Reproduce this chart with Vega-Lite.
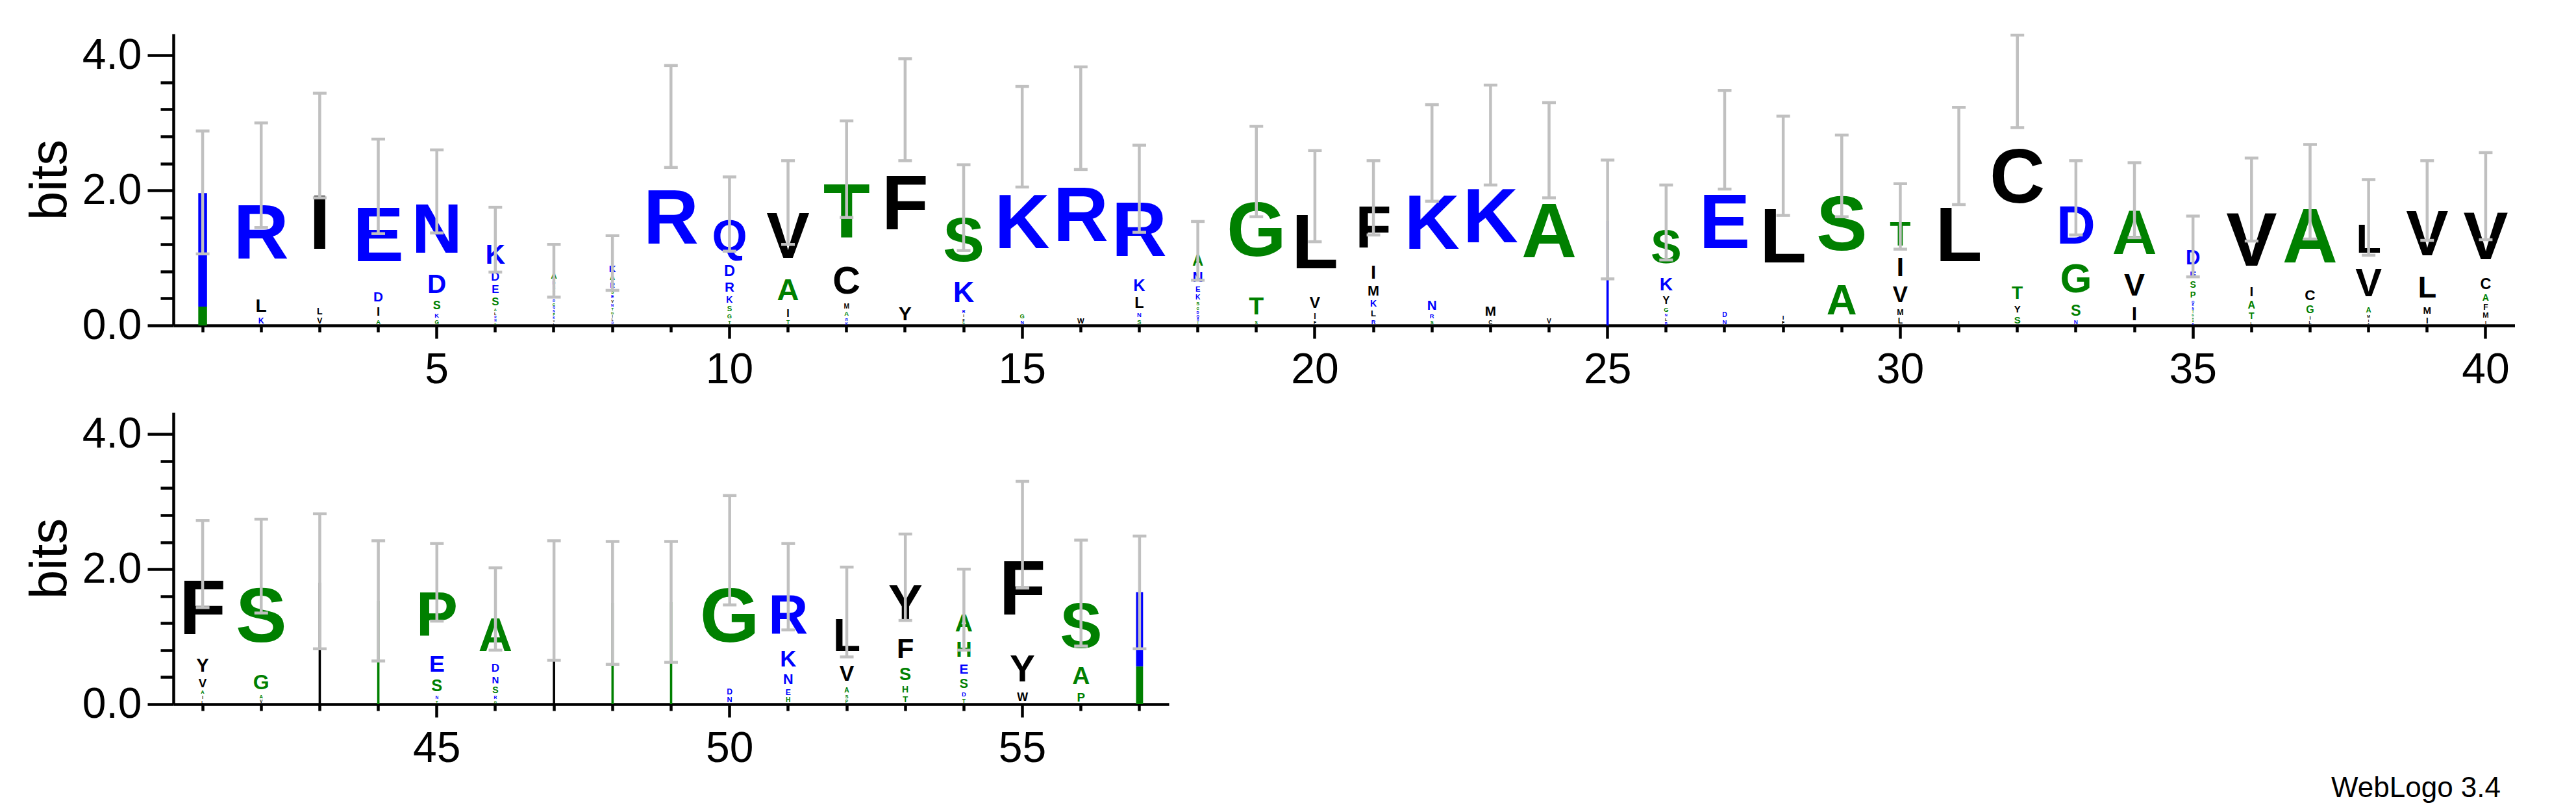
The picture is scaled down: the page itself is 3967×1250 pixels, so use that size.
{
  "$schema": "https://vega.github.io/schema/vega-lite/v6.json",
  "background": "white",
  "padding": {"left": 37, "top": 51, "right": 0, "bottom": 0},
  "spacing": 33,
  "title": {"text": "WebLogo 3.4", "orient": "bottom", "anchor": "end", "font": "Liberation Sans", "fontSize": 44, "fontWeight": "normal", "color": "black", "offset": 7, "dx": -22},
  "datasets": {
    "letters": [
      {"p":1,"a":"S","b":0.28,"f":0.15},{"p":1,"a":"K","b":1.68,"f":0.15},
      {"p":2,"a":"K","b":0.13},{"p":2,"a":"L","b":0.3},{"p":2,"a":"R","b":1.8},
      {"p":3,"a":"V","b":0.13},{"p":3,"a":"L","b":0.15},{"p":3,"a":"I","b":2.38},
      {"p":4,"a":"A","b":0.1},{"p":4,"a":"I","b":0.2},{"p":4,"a":"D","b":0.22},{"p":4,"a":"E","b":1.54},
      {"p":5,"a":"K","b":0.1},{"p":5,"a":"G","b":0.09},{"p":5,"a":"S","b":0.19},{"p":5,"a":"D","b":0.43},{"p":5,"a":"N","b":1.15},
      {"p":6,"a":"L","b":0.06},{"p":6,"a":"A","b":0.06},{"p":6,"a":"N","b":0.05},{"p":6,"a":"R","b":0.05},{"p":6,"a":"G","b":0.04},{"p":6,"a":"S","b":0.18},{"p":6,"a":"E","b":0.18},{"p":6,"a":"D","b":0.19},{"p":6,"a":"K","b":0.45},
      {"p":7,"a":"A","b":0.14},{"p":7,"a":"E","b":0.07},{"p":7,"a":"D","b":0.07},{"p":7,"a":"G","b":0.06},{"p":7,"a":"R","b":0.06},{"p":7,"a":"S","b":0.06},{"p":7,"a":"T","b":0.06},{"p":7,"a":"K","b":0.05},{"p":7,"a":"P","b":0.05},{"p":7,"a":"N","b":0.05},{"p":7,"a":"Q","b":0.05},{"p":7,"a":"L","b":0.04},{"p":7,"a":"V","b":0.04},
      {"p":8,"a":"K","b":0.16},{"p":8,"a":"A","b":0.12},{"p":8,"a":"R","b":0.11},{"p":8,"a":"E","b":0.07},{"p":8,"a":"S","b":0.07},{"p":8,"a":"G","b":0.06},{"p":8,"a":"T","b":0.06},{"p":8,"a":"N","b":0.06},{"p":8,"a":"D","b":0.05},{"p":8,"a":"L","b":0.05},{"p":8,"a":"I","b":0.05},{"p":8,"a":"V","b":0.06},
      {"p":9,"a":"R","b":3.09},
      {"p":10,"a":"Q","b":0.74},{"p":10,"a":"D","b":0.25},{"p":10,"a":"R","b":0.22},{"p":10,"a":"K","b":0.15},{"p":10,"a":"S","b":0.12},{"p":10,"a":"G","b":0.1},{"p":10,"a":"T","b":0.08},
      {"p":11,"a":"V","b":1.06},{"p":11,"a":"A","b":0.5},{"p":11,"a":"I","b":0.17},{"p":11,"a":"T","b":0.09},
      {"p":12,"a":"T","b":1.35},{"p":12,"a":"C","b":0.63},{"p":12,"a":"M","b":0.11},{"p":12,"a":"A","b":0.1},{"p":12,"a":"K","b":0.06},{"p":12,"a":"R","b":0.06},
      {"p":13,"a":"F","b":2.88},{"p":13,"a":"Y","b":0.32},
      {"p":14,"a":"S","b":1.02},{"p":14,"a":"K","b":0.48},{"p":14,"a":"F","b":0.06},{"p":14,"a":"I","b":0.06},{"p":14,"a":"R","b":0.07},{"p":14,"a":"G","b":0.05},
      {"p":15,"a":"K","b":2.6},{"p":15,"a":"G","b":0.1},{"p":15,"a":"N","b":0.08},
      {"p":16,"a":"R","b":2.94},{"p":16,"a":"W","b":0.12},
      {"p":17,"a":"R","b":1.3},{"p":17,"a":"K","b":0.27},{"p":17,"a":"L","b":0.25},{"p":17,"a":"S","b":0.1},{"p":17,"a":"N","b":0.1},
      {"p":18,"a":"A","b":0.25},{"p":18,"a":"N","b":0.24},{"p":18,"a":"E","b":0.12},{"p":18,"a":"K","b":0.11},{"p":18,"a":"S","b":0.08},{"p":18,"a":"Q","b":0.06},{"p":18,"a":"D","b":0.06},{"p":18,"a":"G","b":0.06},{"p":18,"a":"T","b":0.05},{"p":18,"a":"R","b":0.05},
      {"p":19,"a":"G","b":1.8},{"p":19,"a":"T","b":0.4},{"p":19,"a":"S","b":0.07},
      {"p":20,"a":"L","b":1.45},{"p":20,"a":"V","b":0.26},{"p":20,"a":"I","b":0.13},{"p":20,"a":"F","b":0.07},
      {"p":21,"a":"F","b":0.96},{"p":21,"a":"I","b":0.31},{"p":21,"a":"M","b":0.23},{"p":21,"a":"K","b":0.15},{"p":21,"a":"L","b":0.14},{"p":21,"a":"R","b":0.1},
      {"p":22,"a":"K","b":2.15},{"p":22,"a":"N","b":0.22},{"p":22,"a":"R","b":0.1},{"p":22,"a":"S","b":0.08},
      {"p":23,"a":"K","b":2.52},{"p":23,"a":"M","b":0.22},{"p":23,"a":"C","b":0.09},
      {"p":24,"a":"A","b":2.48},{"p":24,"a":"V","b":0.11},
      {"p":25,"a":"K","b":1.55,"f":0.04},
      {"p":26,"a":"S","b":0.76},{"p":26,"a":"K","b":0.3},{"p":26,"a":"Y","b":0.17},{"p":26,"a":"G","b":0.1},{"p":26,"a":"R","b":0.06},{"p":26,"a":"L","b":0.06},{"p":26,"a":"N","b":0.06},
      {"p":27,"a":"E","b":2.55},{"p":27,"a":"D","b":0.11},{"p":27,"a":"N","b":0.1},
      {"p":28,"a":"L","b":2.2},{"p":28,"a":"I","b":0.1},{"p":28,"a":"F","b":0.07},
      {"p":29,"a":"S","b":1.52},{"p":29,"a":"A","b":0.69},
      {"p":30,"a":"T","b":0.56},{"p":30,"a":"I","b":0.43},{"p":30,"a":"V","b":0.37},{"p":30,"a":"L","b":0.13},{"p":30,"a":"M","b":0.13},
      {"p":31,"a":"L","b":2.42},{"p":31,"a":"I","b":0.08},
      {"p":32,"a":"C","b":3.08},{"p":32,"a":"T","b":0.3},{"p":32,"a":"S","b":0.16},{"p":32,"a":"Y","b":0.16},
      {"p":33,"a":"D","b":0.88},{"p":33,"a":"G","b":0.67},{"p":33,"a":"S","b":0.25},{"p":33,"a":"N","b":0.09},
      {"p":34,"a":"A","b":1.02},{"p":34,"a":"V","b":0.51},{"p":34,"a":"I","b":0.32},
      {"p":35,"a":"D","b":0.33},{"p":35,"a":"E","b":0.16},{"p":35,"a":"S","b":0.15},{"p":35,"a":"P","b":0.14},{"p":35,"a":"Q","b":0.06},{"p":35,"a":"G","b":0.05},{"p":35,"a":"T","b":0.05},{"p":35,"a":"N","b":0.05},{"p":35,"a":"K","b":0.05},{"p":35,"a":"R","b":0.04},{"p":35,"a":"A","b":0.04},{"p":35,"a":"H","b":0.04},
      {"p":36,"a":"V","b":1.25},{"p":36,"a":"I","b":0.22},{"p":36,"a":"A","b":0.17},{"p":36,"a":"T","b":0.15},{"p":36,"a":"L","b":0.06},
      {"p":37,"a":"A","b":1.42},{"p":37,"a":"C","b":0.24},{"p":37,"a":"G","b":0.17},{"p":37,"a":"I","b":0.08},{"p":37,"a":"L","b":0.07},
      {"p":38,"a":"L","b":0.67},{"p":38,"a":"V","b":0.65},{"p":38,"a":"A","b":0.12},{"p":38,"a":"I","b":0.06},{"p":38,"a":"M","b":0.06},{"p":38,"a":"F","b":0.04},
      {"p":39,"a":"V","b":1.04},{"p":39,"a":"L","b":0.5},{"p":39,"a":"M","b":0.16},{"p":39,"a":"I","b":0.14},
      {"p":40,"a":"V","b":1.1},{"p":40,"a":"C","b":0.25},{"p":40,"a":"A","b":0.15},{"p":40,"a":"F","b":0.13},{"p":40,"a":"M","b":0.12},{"p":40,"a":"I","b":0.08},
      {"p":41,"a":"F","b":1.32},{"p":41,"a":"Y","b":0.31},{"p":41,"a":"V","b":0.2},{"p":41,"a":"A","b":0.08},{"p":41,"a":"I","b":0.07},{"p":41,"a":"L","b":0.06},
      {"p":42,"a":"S","b":1.54},{"p":42,"a":"G","b":0.34},{"p":42,"a":"A","b":0.08},{"p":42,"a":"V","b":0.07},
      {"p":43,"a":"L","b":1.8,"f":0.04},
      {"p":44,"a":"G","b":1.53,"f":0.04},
      {"p":45,"a":"P","b":1.03},{"p":45,"a":"E","b":0.38},{"p":45,"a":"S","b":0.27},{"p":45,"a":"N","b":0.07},{"p":45,"a":"T","b":0.06},
      {"p":46,"a":"A","b":0.77},{"p":46,"a":"D","b":0.18},{"p":46,"a":"N","b":0.16},{"p":46,"a":"S","b":0.15},{"p":46,"a":"R","b":0.07},{"p":46,"a":"G","b":0.06},
      {"p":47,"a":"L","b":1.53,"f":0.04},
      {"p":48,"a":"G","b":1.5,"f":0.04},
      {"p":49,"a":"G","b":1.51,"f":0.04},
      {"p":50,"a":"G","b":2.02},{"p":50,"a":"D","b":0.13},{"p":50,"a":"N","b":0.12},
      {"p":51,"a":"R","b":0.9},{"p":51,"a":"K","b":0.37},{"p":51,"a":"N","b":0.23},{"p":51,"a":"E","b":0.13},{"p":51,"a":"H","b":0.11},
      {"p":52,"a":"L","b":0.74},{"p":52,"a":"V","b":0.36},{"p":52,"a":"A","b":0.11},{"p":52,"a":"S","b":0.08},{"p":52,"a":"P","b":0.07},
      {"p":53,"a":"Y","b":0.84},{"p":53,"a":"F","b":0.46},{"p":53,"a":"S","b":0.29},{"p":53,"a":"H","b":0.15},{"p":53,"a":"T","b":0.14},
      {"p":54,"a":"A","b":0.4},{"p":54,"a":"H","b":0.36},{"p":54,"a":"E","b":0.22},{"p":54,"a":"S","b":0.21},{"p":54,"a":"D","b":0.1},{"p":54,"a":"T","b":0.09},
      {"p":55,"a":"F","b":1.7},{"p":55,"a":"Y","b":0.62},{"p":55,"a":"W","b":0.19},
      {"p":56,"a":"S","b":1.04},{"p":56,"a":"A","b":0.4},{"p":56,"a":"P","b":0.2},
      {"p":57,"a":"S","b":0.56,"f":0.12},{"p":57,"a":"N","b":1.1,"f":0.12}
    ],
    "err": [
      {"p":1,"lo":1.06,"hi":2.88},{"p":2,"lo":1.45,"hi":3.0},{"p":3,"lo":1.89,"hi":3.44},{"p":4,"lo":1.36,"hi":2.76},{"p":5,"lo":1.37,"hi":2.6},
      {"p":6,"lo":0.79,"hi":1.75},{"p":7,"lo":0.42,"hi":1.2},{"p":8,"lo":0.52,"hi":1.33},{"p":9,"lo":2.34,"hi":3.85},{"p":10,"lo":1.1,"hi":2.2},
      {"p":11,"lo":1.2,"hi":2.44},{"p":12,"lo":1.6,"hi":3.03},{"p":13,"lo":2.44,"hi":3.95},{"p":14,"lo":1.11,"hi":2.38},{"p":15,"lo":2.05,"hi":3.54},
      {"p":16,"lo":2.31,"hi":3.83},{"p":17,"lo":1.38,"hi":2.67},{"p":18,"lo":0.67,"hi":1.54},{"p":19,"lo":1.61,"hi":2.95},{"p":20,"lo":1.24,"hi":2.59},
      {"p":21,"lo":1.34,"hi":2.44},{"p":22,"lo":1.84,"hi":3.27},{"p":23,"lo":2.08,"hi":3.56},{"p":24,"lo":1.89,"hi":3.3},{"p":25,"lo":0.69,"hi":2.45},
      {"p":26,"lo":0.97,"hi":2.08},{"p":27,"lo":2.02,"hi":3.48},{"p":28,"lo":1.63,"hi":3.1},{"p":29,"lo":1.61,"hi":2.82},{"p":30,"lo":1.13,"hi":2.1},
      {"p":31,"lo":1.79,"hi":3.23},{"p":32,"lo":2.93,"hi":4.3},{"p":33,"lo":1.34,"hi":2.44},{"p":34,"lo":1.3,"hi":2.41},{"p":35,"lo":0.72,"hi":1.62},
      {"p":36,"lo":1.25,"hi":2.48},{"p":37,"lo":1.28,"hi":2.68},{"p":38,"lo":1.04,"hi":2.16},{"p":39,"lo":1.26,"hi":2.44},{"p":40,"lo":1.27,"hi":2.56},
      {"p":41,"lo":1.43,"hi":2.72},{"p":42,"lo":1.35,"hi":2.74},{"p":43,"lo":0.82,"hi":2.82},{"p":44,"lo":0.64,"hi":2.42},{"p":45,"lo":1.23,"hi":2.38},
      {"p":46,"lo":0.8,"hi":2.02},{"p":47,"lo":0.65,"hi":2.42},{"p":48,"lo":0.59,"hi":2.41},{"p":49,"lo":0.62,"hi":2.41},{"p":50,"lo":1.47,"hi":3.09},
      {"p":51,"lo":1.1,"hi":2.38},{"p":52,"lo":0.7,"hi":2.03},{"p":53,"lo":1.24,"hi":2.52},{"p":54,"lo":0.8,"hi":2.0},{"p":55,"lo":1.72,"hi":3.3},
      {"p":56,"lo":0.86,"hi":2.43},{"p":57,"lo":0.82,"hi":2.49}
    ]
  },
  "vconcat": [
    {
      "width": 3606,
      "height": 449,
      "encoding": {
        "x": {"field": "p", "type": "ordinal",
          "scale": {"domain": [1,2,3,4,5,6,7,8,9,10,11,12,13,14,15,16,17,18,19,20,21,22,23,24,25,26,27,28,29,30,31,32,33,34,35,36,37,38,39,40], "paddingInner": 0, "paddingOuter": 0},
          "axis": {"title": null, "labelAngle": 0, "labelExpr": "datum.value % 5 === 0 ? datum.label : ''",
            "tickSize": {"condition": {"test": "datum.value % 5 === 0", "value": 20}, "value": 10}, "labelPadding": 16}}
      },
      "layer": [
        {
          "data": {"name": "letters"},
          "transform": [{"filter": "datum.p <= 40 && !(datum.f > 0)"}],
          "mark": {"type": "text", "font": "Liberation Sans", "fontWeight": "bold", "baseline": "middle", "align": "center"},
          "encoding": {
            "y": {"field": "b", "type": "quantitative", "stack": "zero", "bandPosition": 0.5,
              "scale": {"domain": [0, 4.32], "nice": false},
              "title": "bits",
              "axis": {"values": [0,0.2,0.4,0.6,0.8,1,1.2,1.4,1.6,1.8,2,2.2,2.4,2.6,2.8,3,3.2,3.4,3.6,3.8,4,4.2], "format": ".1f",
                "labelExpr": "datum.value % 1 === 0 ? datum.label : ''",
                "tickSize": {"condition": {"test": "datum.value % 1 === 0", "value": 40}, "value": 20},
                "labelPadding": 9, "titlePadding": 8}},
            "order": {"field": "b", "type": "quantitative", "sort": "ascending"},
            "detail": {"field": "a", "type": "nominal"},
            "text": {"field": "a", "type": "nominal"},
            "color": {"field": "a", "type": "nominal", "legend": null,
              "scale": {"domain": ["K","R","D","E","N","Q","S","G","T","A","P","H","L","I","V","F","M","Y","W","C"],
                "range": ["#0000ff","#0000ff","#0000ff","#0000ff","#0000ff","#0000ff","#008000","#008000","#008000","#008000","#008000","#008000","#000000","#000000","#000000","#000000","#000000","#000000","#000000","#000000"]}},
            "size": {"field": "b", "type": "quantitative", "legend": null, "scale": {"domain": [0, 1.255], "range": [0, 118], "clamp": true}}
          }
        },
        {
          "data": {"name": "letters"},
          "transform": [{"filter": "datum.p <= 40 && datum.f > 0"}],
          "mark": {"type": "bar"},
          "encoding": {
            "y": {"field": "b", "type": "quantitative", "stack": "zero", "title": "bits"},
            "order": {"field": "b", "type": "quantitative", "sort": "ascending"},
            "detail": {"field": "a", "type": "nominal"},
            "color": {"field": "a", "type": "nominal", "legend": null},
            "size": {"field": "f", "type": "quantitative", "legend": null, "scale": {"domain": [0, 1], "range": [0, 90]}}
          }
        },
        {
          "data": {"name": "err"},
          "transform": [{"filter": "datum.p <= 40"}],
          "mark": {"type": "rule", "color": "#c0c0c0", "strokeWidth": 4.5},
          "encoding": {"y": {"field": "lo", "type": "quantitative", "title": "bits"}, "y2": {"field": "hi"}}
        },
        {
          "data": {"name": "err"},
          "transform": [{"filter": "datum.p <= 40"}],
          "mark": {"type": "tick", "orient": "horizontal", "color": "#c0c0c0", "size": 21, "thickness": 4.5, "opacity": 1},
          "encoding": {"y": {"field": "lo", "type": "quantitative", "title": "bits"}}
        },
        {
          "data": {"name": "err"},
          "transform": [{"filter": "datum.p <= 40"}],
          "mark": {"type": "tick", "orient": "horizontal", "color": "#c0c0c0", "size": 21, "thickness": 4.5, "opacity": 1},
          "encoding": {"y": {"field": "hi", "type": "quantitative", "title": "bits"}}
        }
      ],
      "resolve": {"scale": {"size": "independent"}}
    },
    {
      "width": 1533,
      "height": 449,
      "encoding": {
        "x": {"field": "p", "type": "ordinal",
          "scale": {"domain": [41,42,43,44,45,46,47,48,49,50,51,52,53,54,55,56,57], "paddingInner": 0, "paddingOuter": 0},
          "axis": {"title": null, "labelAngle": 0, "labelExpr": "datum.value % 5 === 0 ? datum.label : ''",
            "tickSize": {"condition": {"test": "datum.value % 5 === 0", "value": 20}, "value": 10}, "labelPadding": 16}}
      },
      "layer": [
        {
          "data": {"name": "letters"},
          "transform": [{"filter": "datum.p > 40 && !(datum.f > 0)"}],
          "mark": {"type": "text", "font": "Liberation Sans", "fontWeight": "bold", "baseline": "middle", "align": "center"},
          "encoding": {
            "y": {"field": "b", "type": "quantitative", "stack": "zero", "bandPosition": 0.5,
              "scale": {"domain": [0, 4.32], "nice": false},
              "title": "bits",
              "axis": {"values": [0,0.2,0.4,0.6,0.8,1,1.2,1.4,1.6,1.8,2,2.2,2.4,2.6,2.8,3,3.2,3.4,3.6,3.8,4,4.2], "format": ".1f",
                "labelExpr": "datum.value % 1 === 0 ? datum.label : ''",
                "tickSize": {"condition": {"test": "datum.value % 1 === 0", "value": 40}, "value": 20},
                "labelPadding": 9, "titlePadding": 8}},
            "order": {"field": "b", "type": "quantitative", "sort": "ascending"},
            "detail": {"field": "a", "type": "nominal"},
            "text": {"field": "a", "type": "nominal"},
            "color": {"field": "a", "type": "nominal", "legend": null,
              "scale": {"domain": ["K","R","D","E","N","Q","S","G","T","A","P","H","L","I","V","F","M","Y","W","C"],
                "range": ["#0000ff","#0000ff","#0000ff","#0000ff","#0000ff","#0000ff","#008000","#008000","#008000","#008000","#008000","#008000","#000000","#000000","#000000","#000000","#000000","#000000","#000000","#000000"]}},
            "size": {"field": "b", "type": "quantitative", "legend": null, "scale": {"domain": [0, 1.255], "range": [0, 118], "clamp": true}}
          }
        },
        {
          "data": {"name": "letters"},
          "transform": [{"filter": "datum.p > 40 && datum.f > 0"}],
          "mark": {"type": "bar"},
          "encoding": {
            "y": {"field": "b", "type": "quantitative", "stack": "zero", "title": "bits"},
            "order": {"field": "b", "type": "quantitative", "sort": "ascending"},
            "detail": {"field": "a", "type": "nominal"},
            "color": {"field": "a", "type": "nominal", "legend": null},
            "size": {"field": "f", "type": "quantitative", "legend": null, "scale": {"domain": [0, 1], "range": [0, 90]}}
          }
        },
        {
          "data": {"name": "err"},
          "transform": [{"filter": "datum.p > 40"}],
          "mark": {"type": "rule", "color": "#c0c0c0", "strokeWidth": 4.5},
          "encoding": {"y": {"field": "lo", "type": "quantitative", "title": "bits"}, "y2": {"field": "hi"}}
        },
        {
          "data": {"name": "err"},
          "transform": [{"filter": "datum.p > 40"}],
          "mark": {"type": "tick", "orient": "horizontal", "color": "#c0c0c0", "size": 21, "thickness": 4.5, "opacity": 1},
          "encoding": {"y": {"field": "lo", "type": "quantitative", "title": "bits"}}
        },
        {
          "data": {"name": "err"},
          "transform": [{"filter": "datum.p > 40"}],
          "mark": {"type": "tick", "orient": "horizontal", "color": "#c0c0c0", "size": 21, "thickness": 4.5, "opacity": 1},
          "encoding": {"y": {"field": "hi", "type": "quantitative", "title": "bits"}}
        }
      ],
      "resolve": {"scale": {"size": "independent"}}
    }
  ],
  "config": {
    "view": {"stroke": null},
    "axis": {"grid": false, "domainColor": "#000000", "domainWidth": 4.5, "tickColor": "#000000", "tickWidth": 4.5,
      "labelFont": "Liberation Sans", "labelFontSize": 66, "labelColor": "#000000",
      "titleFont": "Liberation Sans", "titleFontSize": 80, "titleFontWeight": "normal", "titleColor": "#000000"}
  }
}
